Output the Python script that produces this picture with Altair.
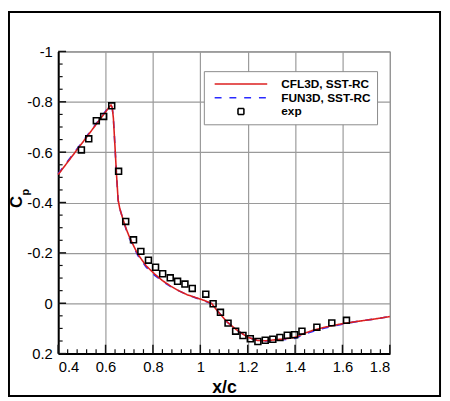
import altair as alt
import pandas as pd

# ---------------- data ----------------
exp_x = [0.498, 0.529, 0.561, 0.592, 0.626, 0.655, 0.685, 0.718, 0.749, 0.781,
         0.811, 0.841, 0.873, 0.904, 0.935, 0.966, 1.023, 1.054, 1.085, 1.117,
         1.149, 1.180, 1.211, 1.243, 1.274, 1.306, 1.336, 1.367, 1.398, 1.429,
         1.492, 1.555, 1.617]
exp_cp = [-0.609, -0.653, -0.725, -0.742, -0.784, -0.524, -0.325, -0.252, -0.206, -0.171,
          -0.143, -0.117, -0.101, -0.087, -0.076, -0.059, -0.036, 0.002, 0.036, 0.079,
          0.111, 0.128, 0.141, 0.152, 0.147, 0.143, 0.136, 0.127, 0.125, 0.111,
          0.095, 0.078, 0.068]

cfl_x = [0.400, 0.500, 0.600, 0.615, 0.623, 0.628, 0.633, 0.640, 0.646, 0.653,
         0.660, 0.674, 0.688, 0.702, 0.720, 0.736, 0.771, 0.806, 0.840, 0.875,
         0.910, 0.944, 0.979, 1.014, 1.048, 1.069, 1.110, 1.152, 1.200, 1.242,
         1.276, 1.318, 1.360, 1.401, 1.443, 1.484, 1.526, 1.595, 1.664, 1.733,
         1.800]
cfl_cp = [-0.511, -0.635, -0.760, -0.779, -0.787, -0.778, -0.735, -0.618, -0.514, -0.410,
          -0.376, -0.332, -0.293, -0.260, -0.225, -0.195, -0.149, -0.117, -0.090, -0.068,
          -0.049, -0.034, -0.023, -0.012, 0.001, 0.027, 0.072, 0.105, 0.135, 0.148,
          0.149, 0.145, 0.141, 0.135, 0.118, 0.105, 0.095, 0.082, 0.072, 0.063,
          0.053]

fun_x = cfl_x
fun_cp = [-0.514, -0.638, -0.763, -0.781, -0.787, -0.778, -0.735, -0.618, -0.514, -0.410,
          -0.376, -0.332, -0.290, -0.255, -0.220, -0.190, -0.144, -0.112, -0.087, -0.066,
          -0.049, -0.034, -0.022, -0.010, 0.002, 0.027, 0.072, 0.105, 0.135, 0.148,
          0.150, 0.147, 0.144, 0.139, 0.122, 0.109, 0.098, 0.084, 0.072, 0.063,
          0.053]

series = ["CFL3D, SST-RC", "FUN3D, SST-RC", "exp"]
colors = ["#dc1f1f", "#2a2aff", "#000000"]
dashes = [[1, 0], [7, 8], [1, 0]]
shapes = ["M-4.45,0H4.45", "M-4.45,0H4.45", "M-0.5,-0.5H0.5V0.5H-0.5Z"]

x_major = [0.4, 0.6, 0.8, 1.0, 1.2, 1.4, 1.6, 1.8]
y_major = [-1.0, -0.8, -0.6, -0.4, -0.2, 0.0, 0.2]
x_minor = [0.44, 0.48, 0.52, 0.56, 0.64, 0.68, 0.72, 0.76, 0.84, 0.88, 0.92, 0.96,
           1.04, 1.08, 1.12, 1.16, 1.24, 1.28, 1.32, 1.36, 1.44, 1.48, 1.52, 1.56,
           1.64, 1.68, 1.72, 1.76]
y_minor = [-0.95, -0.9, -0.85, -0.75, -0.7, -0.65, -0.55, -0.5, -0.45, -0.35, -0.3, -0.25,
           -0.15, -0.1, -0.05, 0.05, 0.1, 0.15]

W, H = 337, 307
FONT = "Liberation Sans"

# ---------------- frames ----------------
cfl_df = pd.DataFrame({"x": cfl_x, "cp": cfl_cp, "series": series[0]})
fun_df = pd.DataFrame({"x": fun_x, "cp": fun_cp, "series": series[1]})
exp_df = pd.DataFrame({"x": exp_x, "cp": exp_cp, "series": series[2]})

xs = alt.Scale(domain=[0.4, 1.8], nice=False, zero=False)
ys = alt.Scale(domain=[-1.0, 0.2], nice=False, zero=False, reverse=True)
lab = "toString(round(datum.value*10)/10)"

x_enc = alt.X("x:Q", scale=xs, axis=alt.Axis(
    values=x_major, title="x/c", labelExpr=lab, grid=True, ticks=False,
    labelFontSize=15, labelFont=FONT, labelPadding=6, labelColor="black",
    titleFontSize=18, titleFont=FONT, titleFontWeight="bold", titleColor="black",
    titleY=40, titleBaseline="alphabetic",
    domainColor="black", domainWidth=2, gridColor="#9a9a9a", gridWidth=1.2))
y_enc = alt.Y("cp:Q", scale=ys, axis=alt.Axis(
    values=y_major, title=None, labelExpr=lab, grid=True, ticks=False,
    labelFontSize=15, labelFont=FONT, labelPadding=6, labelColor="black",
    domainColor="black", domainWidth=2, gridColor="#9a9a9a", gridWidth=1.2))

leg = alt.Legend(title=None)
color = alt.Color("series:N", scale=alt.Scale(domain=series, range=colors), legend=leg)
dash = alt.StrokeDash("series:N", scale=alt.Scale(domain=series, range=dashes), legend=leg)
shape = alt.Shape("series:N", scale=alt.Scale(domain=series, range=shapes), legend=leg)

fun_line = alt.Chart(fun_df).mark_line(strokeWidth=1.6).encode(
    x=x_enc, y=y_enc, color=color, strokeDash=dash, order="x:Q")
cfl_line = alt.Chart(cfl_df).mark_line(strokeWidth=1.6).encode(
    x="x:Q", y="cp:Q", color=color, strokeDash=dash, order="x:Q")
pts = alt.Chart(exp_df).mark_point(filled=False, strokeWidth=1.6, size=144, opacity=1).encode(
    x="x:Q", y="cp:Q", color=color, shape=shape)

# inward ticks
xmaj_df = pd.DataFrame({"x": x_major})
xmin_df = pd.DataFrame({"x": x_minor})
ymaj_df = pd.DataFrame({"cp": y_major})
ymin_df = pd.DataFrame({"cp": y_minor})
tick_col = "#111111"
xt1 = alt.Chart(xmaj_df).mark_rule(color=tick_col, strokeWidth=1.5).encode(
    x="x:Q", y=alt.value(H), y2=alt.value(H - 9))
xt2 = alt.Chart(xmin_df).mark_rule(color=tick_col, strokeWidth=1.2).encode(
    x="x:Q", y=alt.value(H), y2=alt.value(H - 4.5))
yt1 = alt.Chart(ymaj_df).mark_rule(color=tick_col, strokeWidth=1.5).encode(
    y="cp:Q", x=alt.value(0), x2=alt.value(8))
yt2 = alt.Chart(ymin_df).mark_rule(color=tick_col, strokeWidth=1.2).encode(
    y="cp:Q", x=alt.value(0), x2=alt.value(4.5))

# y-axis title C_p
cdf = pd.DataFrame({"t": ["C"]})
pdf = pd.DataFrame({"t": ["p"]})
ctext = alt.Chart(cdf).mark_text(font=FONT, fontWeight="bold", fontSize=17, angle=270,
                                 align="center", baseline="middle", color="black").encode(
    text="t:N", x=alt.value(-42), y=alt.value(153))
ptext = alt.Chart(pdf).mark_text(font=FONT, fontWeight="bold", fontSize=11, angle=270,
                                 align="center", baseline="middle", color="black").encode(
    text="t:N", x=alt.value(-33), y=alt.value(143))

# outer frame
fdf = pd.DataFrame({"a": [0]})
frame = alt.Chart(fdf).mark_rect(filled=False, stroke="black", strokeWidth=2).encode(
    x=alt.value(-50), x2=alt.value(388), y=alt.value(-40), y2=alt.value(350))

chart = alt.layer(
    fun_line, xt1, xt2, yt1, yt2, cfl_line, pts, ctext, ptext, frame
).properties(
    width=W, height=H,
    autosize=alt.AutoSizeParams(type="none"),
    padding={"left": 51, "top": 41, "right": 53, "bottom": 45},
).configure_view(
    stroke="#555555", strokeWidth=1
).configure_legend(
    orient="none", legendX=148, legendY=20, padding=6,
    strokeColor="#8a8a8a", fillColor="white", cornerRadius=0,
    labelFont=FONT, labelFontWeight="bold", labelFontSize=12, labelColor="black",
    symbolSize=144, symbolStrokeWidth=1.6, symbolOffset=24.7, labelOffset=34,
    rowPadding=1, symbolFillColor="transparent"
)

chart.save("out.html", embed_options={"renderer": "svg", "actions": False})
